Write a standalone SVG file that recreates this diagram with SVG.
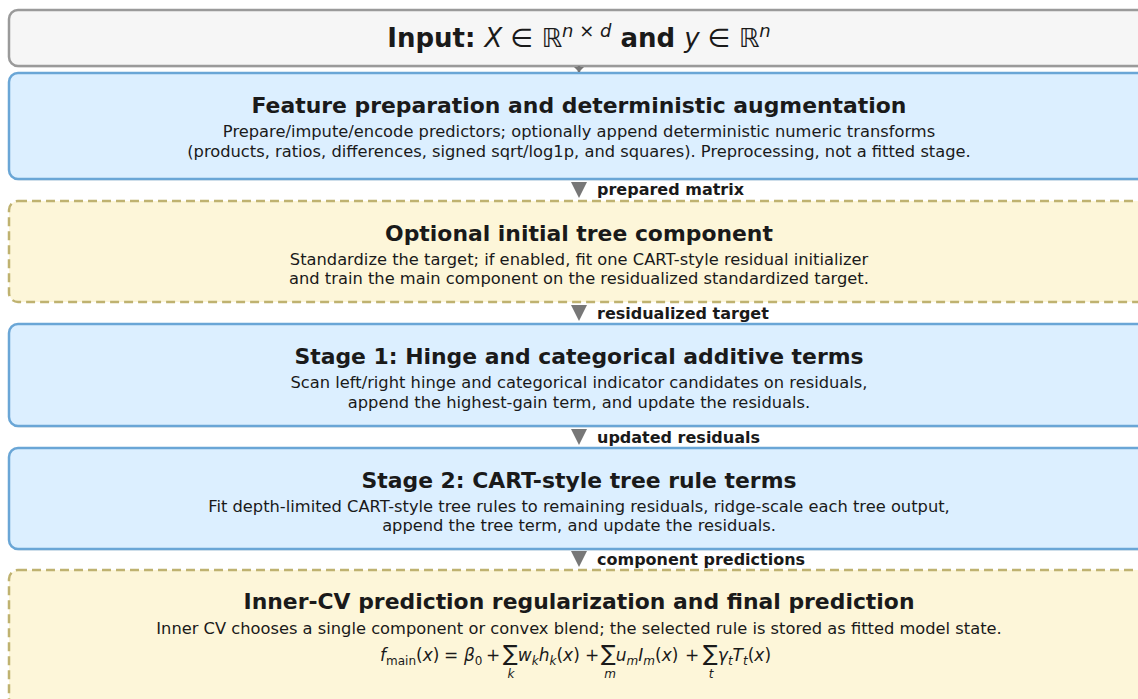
<svg xmlns="http://www.w3.org/2000/svg" width="1138" height="699" viewBox="0 0 1138 699">
<style>
.box{stroke-width:2.5}
.gray{fill:#f6f6f6;stroke:#9a9a9a}
.blue{fill:#dcefff;stroke:#6aa6d6}
.yel{fill:#fdf6d9;stroke:#bfb270;stroke-dasharray:9,5}
.shadow{fill:#000;opacity:0.06}
text{font-family:"DejaVu Sans",sans-serif;fill:#1a1a1a;text-anchor:middle}
.title{font-size:21.9px;font-weight:bold}
.big{font-size:26px;font-weight:bold}
.body{font-size:16.3px}
.lbl{font-size:16px;font-weight:bold;text-anchor:start}
.m{font-style:italic;font-weight:normal}
.mr{font-weight:normal}
.f{font-size:17px;text-anchor:start}
.sg{font-size:22px}
.sub{font-size:12px}
.head{fill:#777}
.conn{stroke:#777;stroke-width:2.5;fill:none}
</style>

<g id="node-input">
<rect class="shadow" x="11" y="12" width="1140" height="56" rx="9"/>
<rect class="box gray" x="9" y="10" width="1140" height="56" rx="9"/>
<text class="big" x="579" y="47">Input: <tspan class="m">X</tspan><tspan class="mr"> ∈ ℝ</tspan><tspan class="m" font-size="18" dy="-10">n</tspan><tspan class="mr" font-size="18"> × </tspan><tspan class="m" font-size="18">d</tspan><tspan dy="10"> and </tspan><tspan class="m">y</tspan><tspan class="mr"> ∈ ℝ</tspan><tspan class="m" font-size="18" dy="-10">n</tspan></text>
</g>

<g id="node-feature">
<rect class="shadow" x="11" y="75" width="1140" height="106" rx="9"/>
<rect class="box blue" x="9" y="73" width="1140" height="106" rx="9"/>
<text class="title" x="579" y="113">Feature preparation and deterministic augmentation</text>
<text class="body" x="579" y="137">Prepare/impute/encode predictors; optionally append deterministic numeric transforms</text>
<text class="body" x="579" y="157">(products, ratios, differences, signed sqrt/log1p, and squares). Preprocessing, not a fitted stage.</text>
</g>

<g id="node-optional">
<rect class="box yel" x="9" y="201" width="1140" height="101" rx="9"/>
<text class="title" x="579" y="241">Optional initial tree component</text>
<text class="body" x="579" y="265">Standardize the target; if enabled, fit one CART-style residual initializer</text>
<text class="body" x="579" y="284">and train the main component on the residualized standardized target.</text>
</g>

<g id="node-stage1">
<rect class="shadow" x="11" y="326" width="1140" height="102" rx="9"/>
<rect class="box blue" x="9" y="324" width="1140" height="102" rx="9"/>
<text class="title" x="579" y="364">Stage 1: Hinge and categorical additive terms</text>
<text class="body" x="579" y="388">Scan left/right hinge and categorical indicator candidates on residuals,</text>
<text class="body" x="579" y="408">append the highest-gain term, and update the residuals.</text>
</g>

<g id="node-stage2">
<rect class="shadow" x="11" y="450" width="1140" height="101" rx="9"/>
<rect class="box blue" x="9" y="448" width="1140" height="101" rx="9"/>
<text class="title" x="579" y="488">Stage 2: CART-style tree rule terms</text>
<text class="body" x="579" y="512">Fit depth-limited CART-style tree rules to remaining residuals, ridge-scale each tree output,</text>
<text class="body" x="579" y="531">append the tree term, and update the residuals.</text>
</g>

<g id="node-final">
<rect class="box yel" x="9" y="570" width="1140" height="150" rx="9"/>
<text class="title" x="579" y="609">Inner-CV prediction regularization and final prediction</text>
<text class="body" x="579" y="634">Inner CV chooses a single component or convex blend; the selected rule is stored as fitted model state.</text>
<text class="f" y="661"><tspan x="380" class="m">f</tspan><tspan class="sub" dy="4">main</tspan><tspan dy="-4">(</tspan><tspan class="m">x</tspan>)<tspan x="444">=</tspan><tspan x="464" class="m">β</tspan><tspan class="sub" dy="4">0</tspan><tspan x="486" dy="-4">+</tspan><tspan x="503" class="sg">∑</tspan><tspan class="m">w</tspan><tspan class="m sub" dy="4">k</tspan><tspan class="m" dy="-4">h</tspan><tspan class="m sub" dy="4">k</tspan><tspan dy="-4">(</tspan><tspan class="m">x</tspan>)<tspan x="585">+</tspan><tspan x="601" class="sg">∑</tspan><tspan class="m">u</tspan><tspan class="m sub" dy="4">m</tspan><tspan class="m" dy="-4">I</tspan><tspan class="m sub" dy="4">m</tspan><tspan dy="-4">(</tspan><tspan class="m">x</tspan>)<tspan x="685">+</tspan><tspan x="703" class="sg">∑</tspan><tspan class="m">γ</tspan><tspan class="m sub" dy="4">t</tspan><tspan class="m" dy="-4">T</tspan><tspan class="m sub" dy="4">t</tspan><tspan dy="-4">(</tspan><tspan class="m">x</tspan>)</text>
<text class="m sub" x="511" y="678">k</text>
<text class="m sub" x="610" y="678">m</text>
<text class="m sub" x="711" y="678">t</text>
</g>

<g id="connectors">
<line class="conn" x1="579" y1="66" x2="579" y2="72"/>
<polygon class="head" points="574,67 584,67 579,72"/>
<polygon class="head" points="571,182 587,182 579,198"/>
<polygon class="head" points="571,305 587,305 579,321"/>
<polygon class="head" points="571,429 587,429 579,445"/>
<polygon class="head" points="571,551 587,551 579,567"/>
<text class="lbl" x="597" y="195">prepared matrix</text>
<text class="lbl" x="597" y="319">residualized target</text>
<text class="lbl" x="597" y="443">updated residuals</text>
<text class="lbl" x="597" y="565">component predictions</text>
</g>
</svg>
